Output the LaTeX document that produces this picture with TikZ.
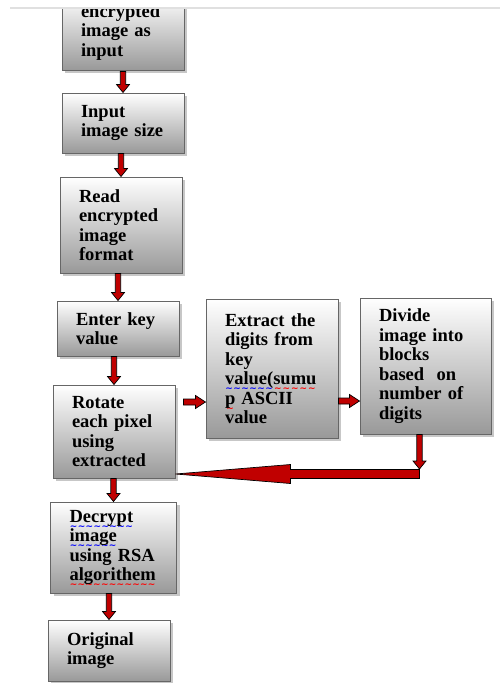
\documentclass[tikz,border=0pt]{standalone}
\usepackage{fontspec}
\setmainfont{Liberation Serif}
\newfontfamily\wavefont{DejaVu Sans}
\usetikzlibrary{calc,shadows}

\definecolor{arrowred}{RGB}{192,0,0}
\newbox\wavebox
\newcommand{\wavy}[2]{\leavevmode\setbox\wavebox=\hbox{#2}\rlap{\raisebox{-7pt}[0pt][0pt]{\color{#1}\hbox to \wd\wavebox{\xleaders\hbox{\fontsize{9}{9}\wavefont\char"223C}\hfill}}}\box\wavebox}
\newcommand{\boxfont}{\fontsize{18.5}{19.5}\selectfont\bfseries}

\tikzset{
  stepbox/.style={draw=black!60, line width=1pt, top color=white, bottom color=black!40,
    drop shadow={shadow xshift=3pt, shadow yshift=-3pt, fill=black!22, opacity=1},
    align=left, inner xsep=19pt, inner ysep=0pt, font=\boxfont},
  fat/.style n args={3}{to path={
    ($(\tikztostart)!#1!90:(\tikztotarget)$)
    -- ($($(\tikztotarget)!#3!(\tikztostart)$)!#1!90:(\tikztotarget)$)
    -- ($($(\tikztotarget)!#3!(\tikztostart)$)!#2!90:(\tikztotarget)$)
    -- (\tikztotarget)
    -- ($($(\tikztotarget)!#3!(\tikztostart)$)!#2!-90:(\tikztotarget)$)
    -- ($($(\tikztotarget)!#3!(\tikztostart)$)!#1!-90:(\tikztotarget)$)
    -- ($(\tikztostart)!#1!-90:(\tikztotarget)$)
    -- cycle}},
  smallarrow/.style={fat={2.7pt}{6.5pt}{8pt}},
  bigarrow/.style={fat={4.5pt}{9.5pt}{115pt}},
  arrowline/.style={draw=black, line width=.7pt, fill=arrowred},
}

\begin{document}
\begin{tikzpicture}[x=1pt, y=-1pt]
\useasboundingbox (0,0) rectangle (500,683);

% boxes down the left
\begin{scope}
\clip (0,9) rectangle (500,100);
\node[stepbox, minimum width=122pt, minimum height=75pt, text width=84pt] (encrypted) at (123,32.5) {encrypted\\image as\\input};
\end{scope}
\draw[black!12, line width=1.5pt] (10,8) -- (500,8);

\node[stepbox, minimum width=122pt, minimum height=60pt, text width=84pt] (size) at (123,123) {Input\\image size};
\node[stepbox, minimum width=122pt, minimum height=96pt, text width=84pt] (format) at (121,225) {Read\\encrypted\\image\\format};
\node[stepbox, minimum width=122pt, minimum height=55pt, text width=84pt] (key) at (118,328.5) {Enter key\\value};
\node[stepbox, minimum width=122pt, minimum height=93pt, text width=84pt] (rotate) at (114,431.5) {Rotate\\each pixel\\using\\extracted};
\node[stepbox, minimum width=126pt, minimum height=91pt, text width=88pt] (decrypt) at (113.5,547.5) {\wavy{blue}{Decrypt}\\\wavy{blue}{image}\\using RSA\\\wavy{red}{algorithem}};
\node[stepbox, minimum width=122pt, minimum height=61pt, text width=84pt] (original) at (109,650.5) {Original\\image};

% boxes on the right
\node[stepbox, minimum width=132pt, minimum height=139pt, text width=94pt] (extract) at (272,368.5) {Extract the\\digits from\\key\\\wavy{blue}{value(}\wavy{red}{sumu}\\\wavy{red}{p} ASCII\\value};
\node[stepbox, minimum width=131pt, minimum height=136pt, text width=93pt] (divide) at (425.5,366) {Divide\\image into\\blocks\\based~ on\\number of\\digits};

% arrows
\filldraw[arrowline] ([yshift=-1pt]encrypted.south) to[smallarrow] (size.north);
\filldraw[arrowline] (format.north |- size.south) to[smallarrow] (format.north);
\filldraw[arrowline] (key.north |- format.south) to[smallarrow] (key.north);
\filldraw[arrowline] (rotate.north |- key.south) to[smallarrow] (rotate.north);
\filldraw[arrowline] (decrypt.north |- rotate.south) to[smallarrow] (decrypt.north);
\filldraw[arrowline] (original.north |- decrypt.south) to[smallarrow] (original.north);

\filldraw[arrowline] ([xshift=8pt, yshift=29.5pt]rotate.east) to[fat={3pt}{6.5pt}{10pt}] ([yshift=-33.5pt]extract.west);
\filldraw[arrowline] ([yshift=-32.5pt]extract.east) to[fat={3pt}{6.5pt}{10pt}] ([yshift=-35pt]divide.west);

\coordinate (corner) at ([xshift=-6pt, yshift=-39.5pt]divide.south);
\coordinate (drop) at ([yshift=5pt]corner);
\filldraw[arrowline] (corner) to[bigarrow] (rotate.east |- corner);
\filldraw[arrowline] (corner |- divide.south) to[smallarrow] (drop);
\end{tikzpicture}
\end{document}
